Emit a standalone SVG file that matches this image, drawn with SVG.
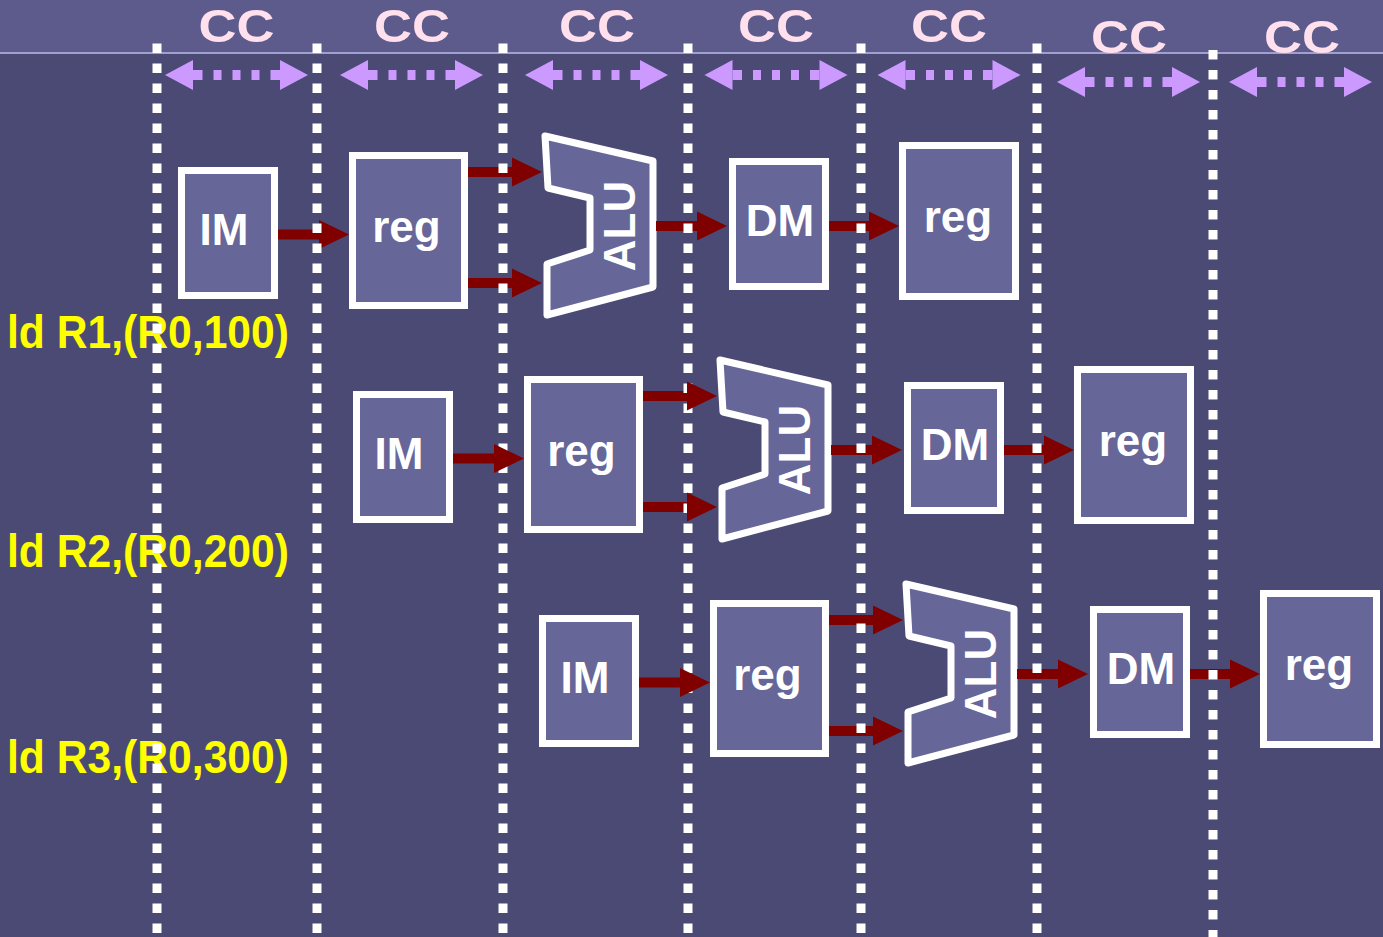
<svg xmlns="http://www.w3.org/2000/svg" width="1383" height="937" viewBox="0 0 1383 937">
<style>
.box{fill:#666699;stroke:#ffffff;stroke-width:7}
.alu{fill:#666699;stroke:#ffffff;stroke-width:7;stroke-linejoin:round}
.lbl{font-family:"Liberation Sans",Arial,sans-serif;font-weight:bold;font-size:44px;fill:#ffffff;text-anchor:middle}
.cc{font-family:"Liberation Sans",Arial,sans-serif;font-weight:bold;font-size:47px;fill:#ffe0ec;text-anchor:middle}
.instr{font-family:"Liberation Sans",Arial,sans-serif;font-weight:bold;font-size:46px;fill:#ffff00}
.conn{fill:#800000;stroke:none}
.grid{stroke:#ffffff;stroke-width:9;stroke-dasharray:9.5 10.5;fill:none}
</style>
<defs>
<g id="ccArrow">
<polygon points="-71.5,0 -43.5,-15 -43.5,15" fill="#cc99ff"/>
<polygon points="71.5,0 43.5,-15 43.5,15" fill="#cc99ff"/>
<line x1="-43.5" y1="0" x2="43.5" y2="0" stroke="#cc99ff" stroke-width="10" stroke-dasharray="9.5 11 8 11 8 11 8 11 9.5"/>
</g>
<mask id="headMask" maskUnits="userSpaceOnUse" x="0" y="0" width="1383" height="937">
<rect x="0" y="0" width="1383" height="937" fill="#ffffff"/>
<polygon points="494,444 524,458.5 494,473" fill="#000000"/>
<polygon points="687,381.5 717,396 687,410.5" fill="#000000"/>
<polygon points="687,492.5 717,507 687,521.5" fill="#000000"/>
<polygon points="680,668 710,682.5 680,697" fill="#000000"/>
</mask>
</defs>
<rect x="0" y="0" width="1383" height="937" fill="#4b4a74"/>
<rect x="0" y="0" width="1383" height="53" fill="#5c5b8c"/>
<line x1="0" y1="53" x2="1383" y2="53" stroke="#a09fd0" stroke-width="2"/>
<g id="clock-cycles">
<text class="cc" x="236.5" y="42" textLength="76" lengthAdjust="spacingAndGlyphs">CC</text>
<text class="cc" x="412" y="42" textLength="76" lengthAdjust="spacingAndGlyphs">CC</text>
<text class="cc" x="597" y="42" textLength="76" lengthAdjust="spacingAndGlyphs">CC</text>
<text class="cc" x="776" y="42" textLength="76" lengthAdjust="spacingAndGlyphs">CC</text>
<text class="cc" x="949" y="42" textLength="76" lengthAdjust="spacingAndGlyphs">CC</text>
<text class="cc" x="1129" y="53" textLength="76" lengthAdjust="spacingAndGlyphs">CC</text>
<text class="cc" x="1302" y="53" textLength="76" lengthAdjust="spacingAndGlyphs">CC</text>
<use href="#ccArrow" x="236.5" y="75"/>
<use href="#ccArrow" x="411.5" y="75"/>
<use href="#ccArrow" x="596.5" y="75"/>
<use href="#ccArrow" x="776" y="75"/>
<use href="#ccArrow" x="949" y="75"/>
<use href="#ccArrow" x="1128.5" y="82"/>
<use href="#ccArrow" x="1300.5" y="82"/>
</g>
<g id="instructions">
<text class="instr" x="7" y="348" textLength="282" lengthAdjust="spacingAndGlyphs">ld R1,(R0,100)</text>
<text class="instr" x="7" y="567" textLength="282" lengthAdjust="spacingAndGlyphs">ld R2,(R0,200)</text>
<text class="instr" x="7" y="773" textLength="282" lengthAdjust="spacingAndGlyphs">ld R3,(R0,300)</text>
</g>
<!-- Row 1 -->
<g id="im1"><rect class="box" x="181.5" y="170.5" width="93" height="125"/><text class="lbl" x="224" y="245">IM</text></g>
<g id="reg1a"><rect class="box" x="352.5" y="155.5" width="112" height="150"/><text class="lbl" x="406.5" y="242">reg</text></g>
<g id="alu1"><polygon class="alu" points="545,136 653,161 653,287 547,315 547,264 590,250 590,198 548,188"/><text class="lbl" transform="translate(635,226) rotate(-90)">ALU</text></g>
<g id="dm1"><rect class="box" x="732.5" y="161.5" width="93" height="125"/><text class="lbl" x="780" y="236">DM</text></g>
<g id="reg1b"><rect class="box" x="902.5" y="145.5" width="113" height="151"/><text class="lbl" x="958" y="232">reg</text></g>
<!-- Row 2 -->
<g id="im2"><rect class="box" x="356.5" y="394.5" width="93" height="125"/><text class="lbl" x="399" y="469">IM</text></g>
<g id="reg2a"><rect class="box" x="527.5" y="379.5" width="112" height="150"/><text class="lbl" x="581.5" y="466">reg</text></g>
<g id="alu2"><polygon class="alu" points="720,360 828,385 828,511 722,539 722,488 765,474 765,422 723,412"/><text class="lbl" transform="translate(810,450) rotate(-90)">ALU</text></g>
<g id="dm2"><rect class="box" x="907.5" y="385.5" width="93" height="125"/><text class="lbl" x="955" y="460">DM</text></g>
<g id="reg2b"><rect class="box" x="1077.5" y="369.5" width="113" height="151"/><text class="lbl" x="1133" y="456">reg</text></g>
<!-- Row 3 -->
<g id="im3"><rect class="box" x="542.5" y="618.5" width="93" height="125"/><text class="lbl" x="585" y="693">IM</text></g>
<g id="reg3a"><rect class="box" x="713.5" y="603.5" width="112" height="150"/><text class="lbl" x="767.5" y="690">reg</text></g>
<g id="alu3"><polygon class="alu" points="906,584 1014,609 1014,735 908,763 908,712 951,698 951,646 909,636"/><text class="lbl" transform="translate(996,674) rotate(-90)">ALU</text></g>
<g id="dm3"><rect class="box" x="1093.5" y="609.5" width="93" height="125"/><text class="lbl" x="1141" y="684">DM</text></g>
<g id="reg3b"><rect class="box" x="1263.5" y="593.5" width="113" height="151"/><text class="lbl" x="1319" y="680">reg</text></g>
<g id="connectors">
<path class="conn" d="M278,229.5 H319 V220 L349,234.5 L319,249 V239.5 H278 Z"/>
<path class="conn" d="M468,167 H512 V157.5 L542,172 L512,186.5 V177 H468 Z"/>
<path class="conn" d="M468,278 H512 V268.5 L542,283 L512,297.5 V288 H468 Z"/>
<path class="conn" d="M656,221 H697 V211.5 L727,226 L697,240.5 V231 H656 Z"/>
<path class="conn" d="M829,221 H869 V211.5 L899,226 L869,240.5 V231 H829 Z"/>
<path class="conn" d="M453,453.5 H494 V444 L524,458.5 L494,473 V463.5 H453 Z"/>
<path class="conn" d="M643,391 H687 V381.5 L717,396 L687,410.5 V401 H643 Z"/>
<path class="conn" d="M643,502 H687 V492.5 L717,507 L687,521.5 V512 H643 Z"/>
<path class="conn" d="M831,445 H872 V435.5 L902,450 L872,464.5 V455 H831 Z"/>
<path class="conn" d="M1004,445 H1044 V435.5 L1074,450 L1044,464.5 V455 H1004 Z"/>
<path class="conn" d="M639,677.5 H680 V668 L710,682.5 L680,697 V687.5 H639 Z"/>
<path class="conn" d="M829,615 H873 V605.5 L903,620 L873,634.5 V625 H829 Z"/>
<path class="conn" d="M829,726 H873 V716.5 L903,731 L873,745.5 V736 H829 Z"/>
<path class="conn" d="M1017,669 H1058 V659.5 L1088,674 L1058,688.5 V679 H1017 Z"/>
<path class="conn" d="M1190,669 H1230 V659.5 L1260,674 L1230,688.5 V679 H1190 Z"/>
</g>
<g id="cycle-boundaries" mask="url(#headMask)">
<line class="grid" x1="157" y1="43.5" x2="157" y2="937"/>
<line class="grid" x1="317" y1="43.5" x2="317" y2="937"/>
<line class="grid" x1="503" y1="43.5" x2="503" y2="937"/>
<line class="grid" x1="688" y1="43.5" x2="688" y2="937"/>
<line class="grid" x1="861" y1="43.5" x2="861" y2="937"/>
<line class="grid" x1="1037" y1="43.5" x2="1037" y2="937"/>
<line class="grid" x1="1213" y1="50" x2="1213" y2="937"/>
</g>
</svg>
